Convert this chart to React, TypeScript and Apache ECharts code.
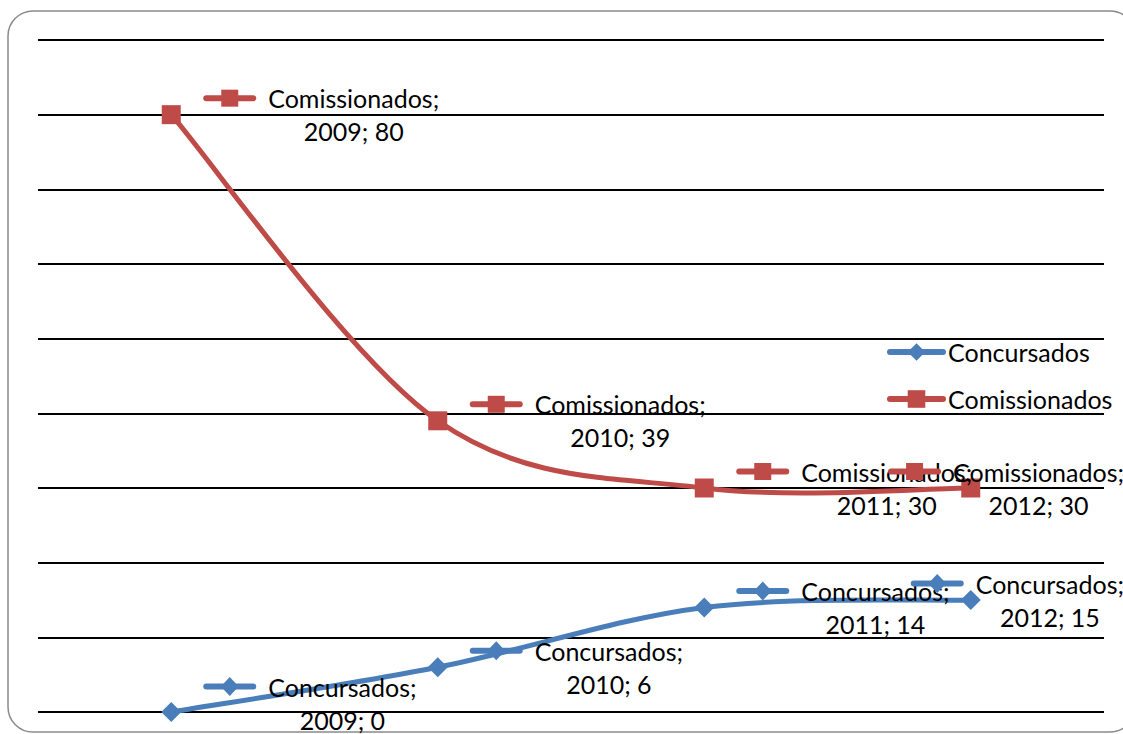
import React, { useEffect, useRef } from "react";
import * as echarts from "echarts";

// Categories and series values
const years = ["2009", "2010", "2011", "2012"];
const concursados = [0, 6, 14, 15];
const comissionados = [80, 39, 30, 30];
const seriesNames = ["Concursados", "Comissionados"];
// Value axis: 0..90, one gridline every 10
const yMin = 0;
const yMax = 90;
const yStep = 10;

const BLUE = "#4A7EBB";
const RED = "#BE4B48";
const FONT = "Lato";
const FONT_SIZE = 25;

let measureCtx: CanvasRenderingContext2D | null = null;
function textWidth(t: string): number {
  if (!measureCtx) {
    measureCtx = document.createElement("canvas").getContext("2d");
  }
  measureCtx!.font = `${FONT_SIZE}px ${FONT}`;
  return measureCtx!.measureText(t).width;
}

// Smoothed line: cubic segments whose tangents follow the neighbouring points
function curveSeries(values: number[], color: string) {
  return {
    type: "custom",
    coordinateSystem: "cartesian2d",
    z: 2,
    silent: true,
    clip: false,
    data: values.map((v, i) => [i, v]),
    renderItem: (params: any, api: any) => {
      const i = params.dataIndex;
      const n = values.length;
      if (i >= n - 1) return { type: "group", children: [] };
      const pt = (j: number) => {
        const k = Math.max(0, Math.min(n - 1, j));
        return api.coord([k, values[k]]);
      };
      const p0 = pt(i - 1);
      const p1 = pt(i);
      const p2 = pt(i + 1);
      const p3 = pt(i + 2);
      return {
        type: "bezierCurve",
        shape: {
          x1: p1[0],
          y1: p1[1],
          x2: p2[0],
          y2: p2[1],
          cpx1: p1[0] + (p2[0] - p0[0]) / 6,
          cpy1: p1[1] + (p2[1] - p0[1]) / 6,
          cpx2: p2[0] - (p3[0] - p1[0]) / 6,
          cpy2: p2[1] - (p3[1] - p1[1]) / 6,
        },
        style: { stroke: color, lineWidth: 5, lineCap: "round", fill: "none" },
      };
    },
  };
}

// Data label with a legend key in front of a two-line, centred text
function labelSeries(name: string, values: number[], color: string, marker: "rect" | "diamond") {
  return {
    type: "custom",
    coordinateSystem: "cartesian2d",
    z: 4,
    silent: true,
    clip: false,
    data: values.map((v, i) => [i, v]),
    renderItem: (params: any, api: any) => {
      const i = api.value(0);
      const v = api.value(1);
      const [px, py] = api.coord([i, v]);
      const W = api.getWidth();
      const H = api.getHeight();
      const line1 = `${name};`;
      const line2 = `${years[i]}; ${v}`;
      const tw = Math.max(textWidth(line1), textWidth(line2));
      const keyW = 53;
      const keyGap = 12;
      let left = px + 32;
      const blockW = keyW + keyGap + tw;
      if (left + blockW > W + 1) left = W + 1 - blockW;
      const cy = Math.min(py, H - 31);
      const ky = cy - 16.5;
      const mx = left + keyW / 2;
      const markerEl =
        marker === "rect"
          ? { type: "rect", shape: { x: mx - 8.5, y: ky - 8.5, width: 17, height: 17 }, style: { fill: color } }
          : {
              type: "polygon",
              shape: { points: [[mx, ky - 9.5], [mx + 9, ky], [mx, ky + 9.5], [mx - 9, ky]] },
              style: { fill: color },
            };
      return {
        type: "group",
        children: [
          {
            type: "line",
            shape: { x1: left + 3, y1: ky, x2: left + keyW - 3, y2: ky },
            style: { stroke: color, lineWidth: 6, lineCap: "round" },
          },
          markerEl,
          {
            type: "text",
            x: left + keyW + keyGap + tw / 2,
            y: cy,
            style: {
              text: `${line1}\n${line2}`,
              align: "center",
              verticalAlign: "middle",
              textAlign: "center",
              textVerticalAlign: "middle",
              fontSize: FONT_SIZE,
              fontFamily: FONT,
              lineHeight: 33,
              fill: "#000",
            },
          },
        ],
      };
    },
  };
}

export default function App() {
  const ref = useRef<HTMLDivElement>(null);

  useEffect(() => {
    if (!ref.current) return;
    const chart = echarts.init(ref.current, undefined, { renderer: "svg" });
    chart.setOption({
      animation: false,
      backgroundColor: "#fff",
      textStyle: { fontFamily: FONT },
      graphic: [
        {
          type: "rect",
          shape: { x: 8, y: 11, width: 1127, height: 721, r: 25 },
          style: { fill: "none", stroke: "#8a8a8a", lineWidth: 1.5 },
          z: -1,
          silent: true,
        },
      ],
      grid: { left: 38, right: 19, top: 40, bottom: 22, containLabel: false },
      legend: {
        data: seriesNames,
        orient: "vertical",
        left: 887,
        top: 337,
        padding: 0,
        itemWidth: 53,
        itemHeight: 22,
        itemGap: 17,
        lineStyle: { width: 6, cap: "round" },
        textStyle: { fontSize: FONT_SIZE, fontFamily: FONT, color: "#000", lineHeight: 30 },
        selectedMode: false,
      },
      xAxis: {
        type: "category",
        data: years,
        boundaryGap: true,
        axisLine: { show: false },
        axisTick: { show: false },
        axisLabel: { show: false },
        splitLine: { show: false },
      },
      yAxis: {
        type: "value",
        min: yMin,
        max: yMax,
        interval: yStep,
        axisLine: { show: false },
        axisTick: { show: false },
        axisLabel: { show: false },
        splitLine: { show: true, lineStyle: { color: "#000", width: 2 } },
      },
      series: [
        {
          name: seriesNames[0],
          type: "line",
          data: concursados,
          symbol: "diamond",
          symbolSize: 20,
          lineStyle: { color: BLUE, width: 0 },
          itemStyle: { color: BLUE },
          z: 3,
        },
        {
          name: seriesNames[1],
          type: "line",
          data: comissionados,
          symbol: "rect",
          symbolSize: 19,
          lineStyle: { color: RED, width: 0 },
          itemStyle: { color: RED },
          z: 3,
        },
        curveSeries(concursados, BLUE),
        curveSeries(comissionados, RED),
        labelSeries(seriesNames[0], concursados, BLUE, "diamond"),
        labelSeries(seriesNames[1], comissionados, RED, "rect"),
      ],
    });
    return () => chart.dispose();
  }, []);

  return (
    <div
      ref={ref}
      style={{ position: "absolute", left: 0, top: 0, width: 1123, height: 734 }}
    />
  );
}
